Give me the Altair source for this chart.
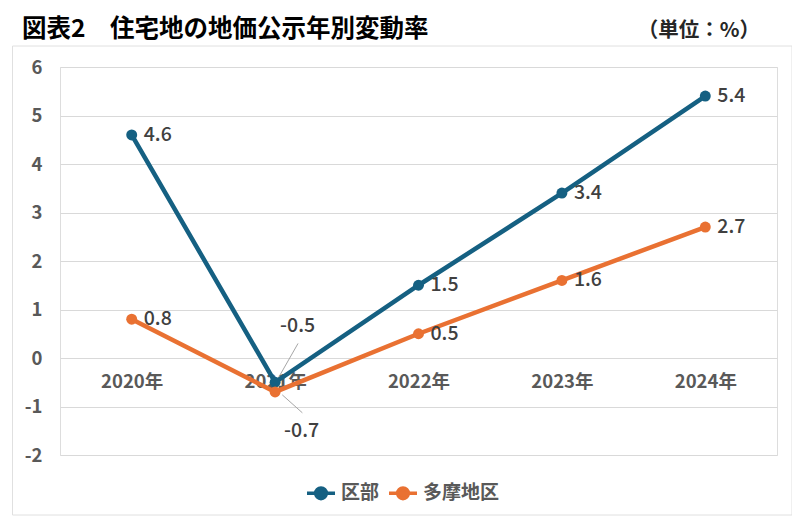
import altair as alt
import pandas as pd

years = [2020, 2021, 2022, 2023, 2024]
series_names = ["区部", "多摩地区"]
ku = [4.6, -0.5, 1.5, 3.4, 5.4]
tama = [0.8, -0.7, 0.5, 1.6, 2.7]
y_ticks = [-2, -1, 0, 1, 2, 3, 4, 5, 6]
title_text = "図表2　住宅地の地価公示年別変動率"
unit_text = "（単位：%）"

colors = ["#156082", "#E97132"]
FONT = "Noto Sans CJK JP"

rows = []
for s, vals in zip(series_names, [ku, tama]):
    for yr, v in zip(years, vals):
        rows.append({"year": yr, "series": s, "value": v})
df = pd.DataFrame(rows)

W, H = 717, 388

x = alt.X("year:Q", scale=alt.Scale(domain=[2019.5, 2024.5], nice=False, zero=False),
          axis=alt.Axis(values=years, labelExpr="datum.value + '年'", title=None,
                        grid=False, domain=False, ticks=False, tickSize=0,
                        offset=-97, labelPadding=14, labelFont=FONT, labelFontSize=18.5,
                        labelFontWeight="bold", labelColor="#595959"))
y = alt.Y("value:Q", scale=alt.Scale(domain=[-2, 6], nice=False),
          axis=alt.Axis(values=y_ticks, labelExpr="toString(datum.value)", title=None,
                        grid=True, gridColor="#D9D9D9", gridWidth=1, domain=False,
                        ticks=False, tickSize=0, labelPadding=18, labelFont=FONT,
                        labelFontSize=18.5, labelFontWeight="bold", labelColor="#595959"))

legend = alt.Legend(title=None, orient="none", legendX=245, legendY=410,
                    direction="horizontal",
                    symbolType="M -1 0 L 1 0 M -0.38 0 A 0.38 0.38 0 1 0 0.38 0 A 0.38 0.38 0 1 0 -0.38 0 Z",
                    symbolSize=784, symbolStrokeWidth=3.5,
                    labelFont=FONT, labelFontSize=19, labelFontWeight="bold",
                    labelColor="#595959", labelOffset=4, columnPadding=2)
color = alt.Color("series:N", scale=alt.Scale(domain=series_names, range=colors), legend=legend)

base = alt.Chart(df)

line = base.mark_line(strokeWidth=4.5).encode(x=x, y=y, color=color)
pts = base.mark_point(filled=True, size=120, opacity=1).encode(x=x, y=y, color=color)

LBL = dict(font=FONT, fontSize=19.5, fontWeight=500, color="#404040")
lbl = base.transform_calculate(t="toString(datum.value)")
labels = lbl.transform_filter("datum.year != 2021").mark_text(
    align="left", baseline="middle", dx=12, **LBL
).encode(x="year:Q", y="value:Q", text="t:N")
lab_ku = lbl.transform_filter("datum.year == 2021 && datum.series == '区部'").mark_text(
    align="left", baseline="middle", dx=5, dy=-56, **LBL
).encode(x="year:Q", y="value:Q", text="t:N")
lab_tama = lbl.transform_filter("datum.year == 2021 && datum.series == '多摩地区'").mark_text(
    align="left", baseline="middle", dx=9, dy=39, **LBL
).encode(x="year:Q", y="value:Q", text="t:N")

lead_ku = base.transform_filter("datum.year == 2021 && datum.series == '区部'").transform_calculate(
    x1="datum.year + 0.015", y1="datum.value + 0.05", x2="datum.year + 0.16", y2="datum.value + 0.8"
).mark_rule(color="#A6A6A6", strokeWidth=1).encode(x="x1:Q", y="y1:Q", x2="x2:Q", y2="y2:Q")
lead_tama = base.transform_filter("datum.year == 2021 && datum.series == '多摩地区'").transform_calculate(
    x1="datum.year + 0.05", y1="datum.value - 0.06", x2="datum.year + 0.19", y2="datum.value - 0.43"
).mark_rule(color="#A6A6A6", strokeWidth=1).encode(x="x1:Q", y="y1:Q", x2="x2:Q", y2="y2:Q")

one = pd.DataFrame({"t": [title_text], "u": [unit_text]})
border = alt.Chart(one).mark_rect(fill=None, stroke="#E0E0E0", strokeWidth=1, clip=False).encode(
    x=alt.value(-47.5), x2=alt.value(732), y=alt.value(-21), y2=alt.value(448))
title = alt.Chart(one).mark_text(align="left", baseline="alphabetic", font=FONT, fontSize=24.5,
                                 fontWeight="bold", color="#000000").encode(
    x=alt.value(-38), y=alt.value(-30), text="t:N")
unit = alt.Chart(one).mark_text(align="right", baseline="alphabetic", font=FONT, fontSize=20.5,
                                fontWeight="bold", color="#262626").encode(
    x=alt.value(700), y=alt.value(-30), text="u:N")

chart = alt.layer(border, title, unit, lead_ku, lead_tama, line, pts, labels, lab_ku, lab_tama).properties(
    width=W, height=H,
    autosize=alt.AutoSizeParams(type="none"),
    padding={"left": 52, "top": 59, "right": 15, "bottom": 64},
).configure_view(stroke=None).configure(background="white")

chart.save("out.html", embed_options={"renderer": "svg", "actions": False})
